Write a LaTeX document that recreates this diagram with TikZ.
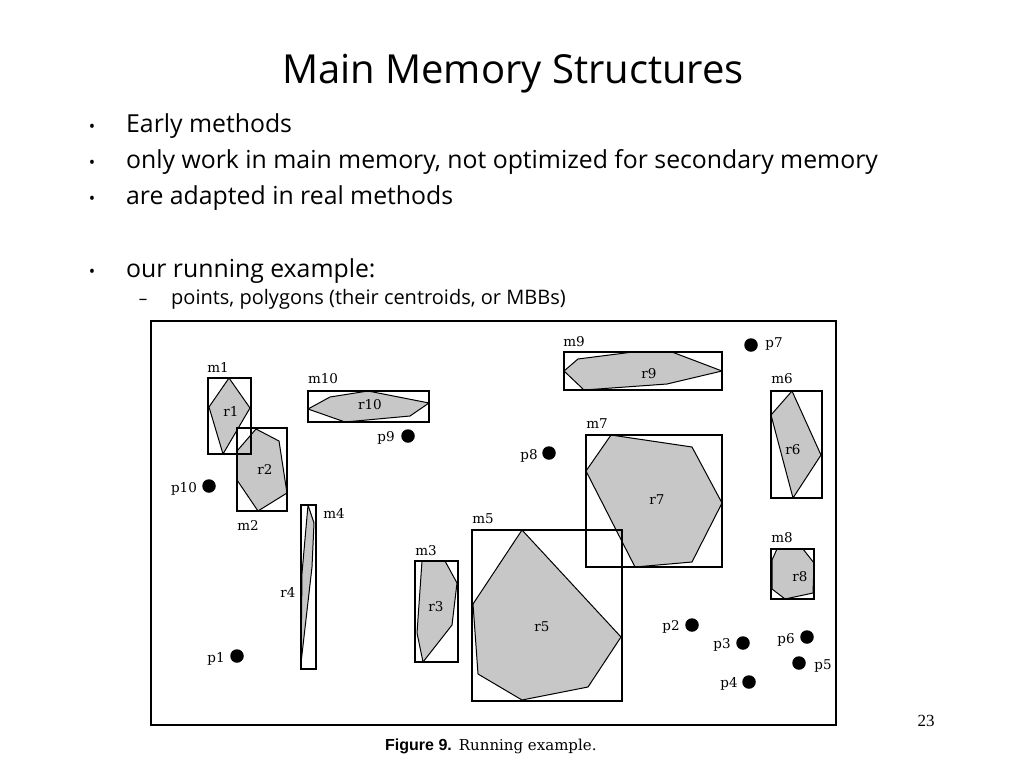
\documentclass[tikz,border=0pt]{standalone}
\usepackage{fontspec}
\setmainfont{Liberation Serif}
\newfontfamily\slidefont{Open Sans}
\newfontfamily\figfont{DejaVu Serif}
\newfontfamily\capsans{Liberation Sans}
\begin{document}
\begin{tikzpicture}[x=1pt,y=-1pt,
  mbr/.style={draw=black,line width=1.1pt},
  reg/.style={draw=black,fill=black!22,line width=1pt,line join=round},
  lbl/.style={font=\figfont\fontsize{13.5}{14}\selectfont,inner sep=0pt},
  pdot/.style={circle,fill=black,minimum size=13.5pt,inner sep=0pt},
  title/.style={font=\slidefont\fontsize{40}{44}\selectfont,inner sep=0pt},
  bul/.style={font=\slidefont\fontsize{24.8}{28}\selectfont,inner sep=0pt,anchor=base west},
  sub/.style={font=\slidefont\fontsize{20}{24}\selectfont,inner sep=0pt,anchor=base west},
  bulmark/.style={font=\slidefont\fontsize{17}{20}\selectfont,inner sep=0pt,anchor=base}]
\useasboundingbox (0,0) rectangle (1024,768);
\fill[white] (0,0) rectangle (1024,768);

% slide text
\node[title,anchor=base] (title) at (513,83) {Main Memory Structures};
\node[bulmark] (b1) at (92,132) {•};
\node[bul] (t1) at (126,132) {Early methods};
\node[bulmark] (b2) at (92,168) {•};
\node[bul] (t2) at (126,168) {only work in main memory, not optimized for secondary memory};
\node[bulmark] (b3) at (92,204) {•};
\node[bul] (t3) at (126,204) {are adapted in real methods};
\node[bulmark] (b4) at (92,277) {•};
\node[bul] (t4) at (126,277) {our running example:};
\node[bulmark] (d1) at (143,304) {–};
\node[sub] (t5) at (171,304) {points, polygons (their centroids, or MBBs)};

% figure frame
\draw[line width=2pt] (151,321) rectangle (836,725);

% regions
\filldraw[reg] (229,378) -- (250,408) -- (223,454) -- (209,407) -- cycle;
\filldraw[reg] (256,429) -- (279,441) -- (287,493) -- (258,511) -- (237,480) -- (237,451) -- cycle;
\filldraw[reg] (308,409) -- (330,397) -- (368,391) -- (429,403) -- (410,416) -- (345,422) -- cycle;
\filldraw[reg] (564,371) -- (578,359) -- (633,352) -- (672,352) -- (722,371) -- (667,384) -- (584,390) -- cycle;
\filldraw[reg] (792,391) -- (821,455) -- (793,498) -- (771,415) -- cycle;
\filldraw[reg] (611,435) -- (692,447) -- (722,503) -- (692,562) -- (635,567) -- (586,471) -- cycle;
\filldraw[reg] (308,505) -- (314,523) -- (312,567) -- (301,663) -- (302,573) -- cycle;
\filldraw[reg] (422,561) -- (445,561) -- (457,583) -- (452,625) -- (423,662) -- (417,633) -- cycle;
\filldraw[reg] (522,530) -- (621,637) -- (588,687) -- (522,700) -- (478,674) -- (473,604) -- cycle;
\filldraw[reg] (777,549) -- (803,549) -- (814,563) -- (813,593) -- (785,599) -- (772,589) -- (772,560) -- cycle;

% MBRs
\draw[mbr] (208,378) rectangle (251,454);
\draw[mbr] (237,428) rectangle (287,511);
\draw[mbr] (308,391) rectangle (429,422);
\draw[mbr] (301,505) rectangle (316,669);
\draw[mbr] (415,561) rectangle (458,662);
\draw[mbr] (472,530) rectangle (622,701);
\draw[mbr] (586,435) rectangle (722,567);
\draw[mbr] (564,352) rectangle (722,390);
\draw[mbr] (771,391) rectangle (822,498);
\draw[mbr] (771,549) rectangle (814,599);

% labels
\node[lbl] (lm1) at (218,367) {m1};
\node[lbl] (lr1) at (231,411) {r1};
\node[lbl] (lm2) at (248,525) {m2};
\node[lbl] (lr2) at (265,469) {r2};
\node[lbl] (lm10) at (323,379) {m10};
\node[lbl] (lr10) at (370,405) {r10};
\node[lbl] (lm4) at (334,513) {m4};
\node[lbl] (lr4) at (288,592) {r4};
\node[lbl] (lm3) at (426,551) {m3};
\node[lbl] (lr3) at (436,607) {r3};
\node[lbl] (lm5) at (483,519) {m5};
\node[lbl] (lr5) at (542,627) {r5};
\node[lbl] (lm7) at (597,424) {m7};
\node[lbl] (lr7) at (657,500) {r7};
\node[lbl] (lm9) at (574,342) {m9};
\node[lbl] (lr9) at (649,374) {r9};
\node[lbl] (lm6) at (782,379) {m6};
\node[lbl] (lr6) at (793,450) {r6};
\node[lbl] (lm8) at (782,538) {m8};
\node[lbl] (lr8) at (800,577) {r8};

% points
\node[pdot] (p1) at (237,656) {};
\node[lbl] (lp1) at (216,659) {p1};
\node[pdot] (p2) at (692,625) {};
\node[lbl] (lp2) at (671,627) {p2};
\node[pdot] (p3) at (743,643) {};
\node[lbl] (lp3) at (722,645) {p3};
\node[pdot] (p4) at (749,682) {};
\node[lbl] (lp4) at (729,684) {p4};
\node[pdot] (p5) at (799,663) {};
\node[lbl] (lp5) at (823,666) {p5};
\node[pdot] (p6) at (807,637) {};
\node[lbl] (lp6) at (786,640) {p6};
\node[pdot] (p7) at (751,345) {};
\node[lbl] (lp7) at (774,344) {p7};
\node[pdot] (p8) at (549,453) {};
\node[lbl] (lp8) at (529,456) {p8};
\node[pdot] (p9) at (408,436) {};
\node[lbl] (lp9) at (386,438) {p9};
\node[pdot] (p10) at (209,486) {};
\node[lbl] (lp10) at (184,489) {p10};

% caption and page number
\node[inner sep=0pt,anchor=base west] (cap) at (385,750)
  {{\capsans\bfseries\fontsize{16}{18}\selectfont Figure 9.}\hspace{7pt}{\figfont\fontsize{15}{17}\selectfont Running example.}};
\node[inner sep=0pt,anchor=base] (pg) at (926,726) {\fontsize{17}{19}\selectfont 23};
\end{tikzpicture}
\end{document}
